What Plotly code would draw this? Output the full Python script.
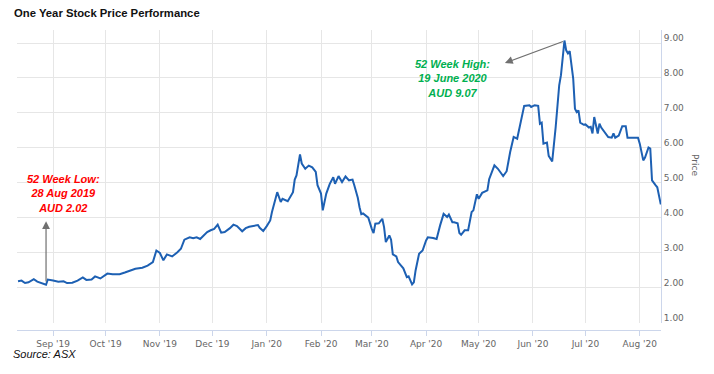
import plotly.graph_objects as go

dates = [
    "2019-08-12", "2019-08-14", "2019-08-16", "2019-08-18", "2019-08-21", "2019-08-23", "2019-08-28", "2019-08-29",
    "2019-09-01", "2019-09-04", "2019-09-07", "2019-09-09", "2019-09-12", "2019-09-15", "2019-09-18", "2019-09-20",
    "2019-09-23", "2019-09-25", "2019-09-28", "2019-09-30",
    "2019-10-02", "2019-10-05", "2019-10-09", "2019-10-12", "2019-10-15", "2019-10-18", "2019-10-22", "2019-10-25",
    "2019-10-28", "2019-10-30",
    "2019-11-01", "2019-11-03", "2019-11-05", "2019-11-08", "2019-11-11", "2019-11-13", "2019-11-15", "2019-11-18",
    "2019-11-20", "2019-11-22", "2019-11-24", "2019-11-26", "2019-11-28", "2019-11-30",
    "2019-12-02", "2019-12-04", "2019-12-06", "2019-12-08", "2019-12-11", "2019-12-13", "2019-12-15", "2019-12-18",
    "2019-12-20", "2019-12-22", "2019-12-24", "2019-12-27", "2019-12-28", "2019-12-30",
    "2020-01-01", "2020-01-03", "2020-01-04", "2020-01-07", "2020-01-09", "2020-01-10", "2020-01-13", "2020-01-16",
    "2020-01-17", "2020-01-18", "2020-01-20", "2020-01-21", "2020-01-23", "2020-01-25", "2020-01-27", "2020-01-29",
    "2020-01-30",
    "2020-02-01", "2020-02-02", "2020-02-04", "2020-02-06", "2020-02-08", "2020-02-09", "2020-02-11", "2020-02-13",
    "2020-02-15", "2020-02-17", "2020-02-19", "2020-02-20", "2020-02-22", "2020-02-23", "2020-02-24", "2020-02-25",
    "2020-02-27", "2020-02-28",
    "2020-03-01", "2020-03-02", "2020-03-03", "2020-03-05", "2020-03-07", "2020-03-08", "2020-03-09", "2020-03-11",
    "2020-03-12", "2020-03-13", "2020-03-15", "2020-03-16", "2020-03-19", "2020-03-21", "2020-03-22", "2020-03-23",
    "2020-03-24", "2020-03-25", "2020-03-26", "2020-03-28", "2020-03-30",
    "2020-04-01", "2020-04-02", "2020-04-05", "2020-04-07", "2020-04-09", "2020-04-11", "2020-04-13", "2020-04-14",
    "2020-04-16", "2020-04-17", "2020-04-19", "2020-04-20", "2020-04-21", "2020-04-23", "2020-04-25", "2020-04-27",
    "2020-04-28", "2020-04-30",
    "2020-05-01", "2020-05-03", "2020-05-06", "2020-05-07", "2020-05-10", "2020-05-12", "2020-05-15", "2020-05-17",
    "2020-05-19", "2020-05-21", "2020-05-23", "2020-05-24", "2020-05-26", "2020-05-27", "2020-05-30", "2020-05-31",
    "2020-06-02", "2020-06-04", "2020-06-05", "2020-06-06", "2020-06-07", "2020-06-09", "2020-06-10", "2020-06-11",
    "2020-06-12", "2020-06-14", "2020-06-16", "2020-06-17", "2020-06-18", "2020-06-19", "2020-06-20", "2020-06-21",
    "2020-06-22", "2020-06-24", "2020-06-25", "2020-06-26", "2020-06-27", "2020-06-28", "2020-06-30",
    "2020-07-01", "2020-07-03", "2020-07-04", "2020-07-05", "2020-07-06", "2020-07-08", "2020-07-09", "2020-07-10",
    "2020-07-12", "2020-07-14", "2020-07-16", "2020-07-17", "2020-07-18", "2020-07-20", "2020-07-22", "2020-07-24",
    "2020-07-25", "2020-07-28", "2020-07-31",
    "2020-08-01", "2020-08-03", "2020-08-04", "2020-08-06", "2020-08-07", "2020-08-08", "2020-08-10", "2020-08-11",
    "2020-08-13",
]

prices = [
    2.18, 2.20, 2.13, 2.15, 2.24, 2.17, 2.08, 2.23,
    2.20, 2.17, 2.18, 2.13, 2.14, 2.20, 2.29, 2.22,
    2.23, 2.32, 2.26, 2.34,
    2.40, 2.38, 2.38, 2.43, 2.49, 2.54, 2.57, 2.63,
    2.73, 3.06,
    2.99, 2.78, 2.95, 2.89, 3.01, 3.11, 3.37, 3.44,
    3.41, 3.44, 3.39, 3.49, 3.59, 3.64,
    3.68, 3.80, 3.57, 3.59, 3.70, 3.80, 3.76, 3.61,
    3.70, 3.74, 3.76, 3.79, 3.71, 3.62,
    3.76, 3.92, 4.16, 4.73, 4.45, 4.54, 4.47, 4.73,
    5.09, 5.21, 5.81, 5.55, 5.40, 5.49, 5.44, 5.31,
    4.93,
    4.69, 4.21, 4.69, 4.97, 5.16, 4.97, 5.19, 5.02,
    5.18, 5.07, 5.09, 4.93, 4.57, 4.30, 4.10, 4.12,
    4.02, 4.00,
    3.68, 3.56, 3.83, 3.84, 3.97, 3.73, 3.30, 3.49,
    3.37, 2.95, 2.89, 2.73, 2.55, 2.30, 2.32, 2.22,
    2.09, 2.15, 2.49, 2.97, 3.06,
    3.35, 3.44, 3.42, 3.39, 3.78, 4.11, 4.02, 4.09,
    3.87, 3.87, 3.84, 3.56, 3.51, 3.64, 3.64, 4.16,
    4.21, 4.67,
    4.54, 4.71, 4.78, 5.10, 5.50, 5.40, 5.19, 5.33,
    5.88, 6.31, 6.26, 6.50, 6.93, 7.20, 7.22, 7.17,
    7.22, 7.20, 6.69, 6.72, 6.12, 6.15, 5.77, 5.69,
    5.61, 6.60, 7.79, 8.08, 8.56, 9.07, 8.79, 8.70,
    8.77, 7.98, 7.12, 7.02, 7.07, 6.72, 6.66,
    6.67, 6.58, 6.60, 6.41, 6.88, 6.41, 6.69, 6.58,
    6.45, 6.31, 6.29, 6.41, 6.29, 6.35, 6.62, 6.62,
    6.29, 6.28, 6.29,
    6.12, 5.64, 5.72, 6.01, 5.98, 5.07, 4.93, 4.87,
    4.38,
]

y_ticks = [1, 2, 3, 4, 5, 6, 7, 8, 9]

low_label = "52 Week Low:<br>28 Aug 2019<br>AUD 2.02"
high_label = "52 Week High:<br>19 June 2020<br>AUD 9.07"

fig = go.Figure()
fig.add_trace(go.Scatter(
    x=dates, y=prices, mode="lines",
    line=dict(color="#1d60b3", width=2),
    showlegend=False, hoverinfo="skip",
))

AXIS_FONT = dict(family="DejaVu Sans", size=9, color="#666666")

# The page body has an 8px default margin, so the layout is offset by -8px.
fig.update_layout(
    width=714, height=374,
    margin=dict(l=9, r=61, t=22, b=52),
    paper_bgcolor="white", plot_bgcolor="white",
    xaxis=dict(
        type="date",
        range=["2019-08-11 10:00", "2020-08-13 03:00"],
        tick0="2019-09-01", dtick="M1", tickformat="%b '%y",
        showgrid=True, gridcolor="#e6e6e6", gridwidth=1,
        showline=True, linecolor="#ccd6eb", linewidth=1,
        ticks="outside", ticklen=5, tickcolor="#ccd6eb",
        tickfont=AXIS_FONT,
        anchor="free", position=0,
        zeroline=False, fixedrange=True,
    ),
    yaxis=dict(
        side="right",
        domain=[7 / 300, 1],
        range=[0.986, 9.372],
        tickvals=y_ticks, tickformat=".2f",
        showgrid=True, gridcolor="#e6e6e6", gridwidth=1,
        showline=True, linecolor="#ccd6eb", linewidth=1,
        ticks="", tickfont=AXIS_FONT,
        ticklabelshift=-5, ticklabelstandoff=0,
        zeroline=False, fixedrange=True,
    ),
)

# chart title (as a paper-referenced annotation, kept inside the figure)
fig.add_annotation(
    x=(12 - 17) / 644, y=(330 - 13) / 300, xref="paper", yref="paper",
    xanchor="left", yanchor="middle",
    text="<b>One Year Stock Price Performance</b>", showarrow=False,
    font=dict(family="Liberation Sans", size=11.3, color="#111111"),
)

ANN_FONT_RED = dict(family="Liberation Sans", size=11, color="#ff0000")
ANN_FONT_GREEN = dict(family="Liberation Sans", size=11, color="#00b050")

# 52-week low label and arrow
fig.add_annotation(
    x="2019-09-07", y=4.68, xref="x", yref="y",
    text="<b><i>" + low_label + "</i></b>", showarrow=False,
    font=ANN_FONT_RED, align="center",
)
fig.add_annotation(
    x="2019-08-28", y=3.90, xref="x", yref="y",
    ax="2019-08-28", ay=2.13, axref="x", ayref="y",
    text="", showarrow=True, arrowhead=2, arrowsize=1.3,
    arrowwidth=1.2, arrowcolor="#707070", standoff=0,
)

# 52-week high label and arrow
fig.add_annotation(
    x="2020-04-16", y=7.97, xref="x", yref="y",
    text="<b><i>" + high_label + "</i></b>", showarrow=False,
    font=ANN_FONT_GREEN, align="center",
)
fig.add_annotation(
    x="2020-05-16", y=8.43, xref="x", yref="y",
    ax="2020-06-19", ay=9.06, axref="x", ayref="y",
    text="", showarrow=True, arrowhead=2, arrowsize=1.3,
    arrowwidth=1.2, arrowcolor="#707070", standoff=0,
)

# axis title on the right, reading top to bottom
fig.add_annotation(
    x=(702 - 17) / 644, y=(330 - 165) / 300, xref="paper", yref="paper",
    text="Price", textangle=90, showarrow=False,
    font=AXIS_FONT,
)

# source note
fig.add_annotation(
    x=(11 - 17) / 644, y=(330 - 354) / 300, xref="paper", yref="paper",
    xanchor="left", yanchor="middle",
    text="<i>Source: ASX</i>", showarrow=False,
    font=dict(family="Liberation Sans", size=11, color="#111111"),
)

fig.write_html("out.html")
